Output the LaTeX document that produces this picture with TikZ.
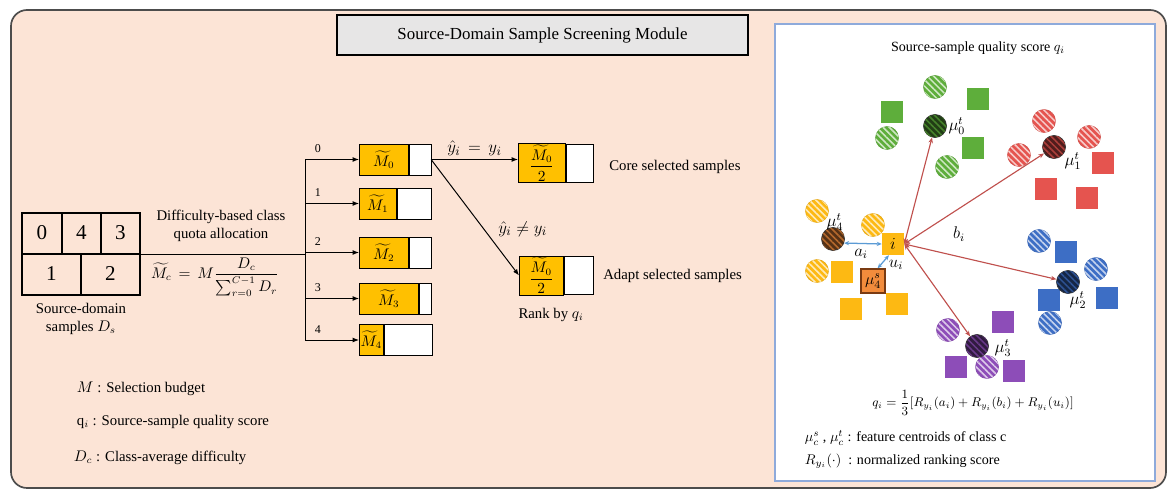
\documentclass[tikz,border=0pt]{standalone}
\usepackage{amsmath}
\usepackage{fontspec}
\setmainfont{Liberation Serif}
\usepackage{xcolor}
\usetikzlibrary{arrows.meta,positioning,patterns.meta}
\definecolor{peach}{HTML}{FCE4D6}
\definecolor{titlegray}{HTML}{E7E6E6}
\definecolor{panelblue}{HTML}{8EAADB}
\definecolor{qyellow}{HTML}{FFC000}
\definecolor{cgreen}{HTML}{5EAE3B}
\definecolor{cred}{HTML}{E5544F}
\definecolor{cyellow}{HTML}{FDB913}
\definecolor{cblue}{HTML}{3D6EC5}
\definecolor{cpurple}{HTML}{8D4DB8}
\definecolor{corange}{HTML}{F28C3C}
\definecolor{cbrown}{HTML}{7A3B12}
\definecolor{arrred}{HTML}{C0504D}
\definecolor{arrblue}{HTML}{5B9BD5}
\newcommand{\pxw}[1]{(#1)*0.025cm}

\begin{document}
\begin{tikzpicture}[x=0.025cm,y=-0.025cm,
  font=\fontsize{10.5}{12.5}\selectfont,
  quota/.style={draw,fill=qyellow,anchor=west,inner sep=1pt,minimum height=\pxw{31}},
  rest/.style={draw,fill=white,anchor=west,inner sep=0pt,minimum height=\pxw{31}},
  arr/.style={-{Latex[length=4.5pt,width=3.5pt]},line width=0.7pt},
  hdot/.style={circle,inner sep=0pt,minimum size=\pxw{23},fill=#1,draw=#1!90!black,
    line width=0.4pt,postaction={pattern={Lines[angle=-45,distance=3.2pt,line width=1.1pt]},
    pattern color=white!70!#1}},
  cdot/.style={circle,inner sep=0pt,minimum size=\pxw{23},fill=#1!35!black,draw=black!80,
    line width=0.5pt,postaction={pattern={Lines[angle=-45,distance=3.2pt,line width=1.1pt]},
    pattern color=#1!75!black}},
  sq/.style={rectangle,inner sep=0pt,minimum size=\pxw{22},fill=#1},
  barr/.style={draw=arrred,line width=0.8pt,{Stealth[length=4pt,width=3.2pt]}-{Stealth[length=4pt,width=3.2pt]}},
  blarr/.style={draw=arrblue,line width=0.9pt,{Stealth[length=3.5pt,width=3pt]}-{Stealth[length=3.5pt,width=3pt]}},
  mlab/.style={font=\fontsize{12}{14}\selectfont,inner sep=1pt},
  ylab/.style={font=\fontsize{12.5}{14}\selectfont,inner sep=1pt}]
\useasboundingbox (0,0) rectangle (1176,498);

% outer frame and title
\draw[draw=black!70,line width=1.2pt,fill=peach,rounded corners=0.4cm] (11,10) rectangle (1166,488);
\node[draw,line width=1.5pt,fill=titlegray,minimum width=\pxw{411},minimum height=\pxw{40},
  font=\fontsize{12}{14}\selectfont] (title) at (542.5,35) {Source-Domain Sample Screening Module};

% source-domain samples
\node[draw,line width=1pt,minimum width=\pxw{118},minimum height=\pxw{82}] (grid) at (81,254) {};
\draw[line width=1pt] (grid.west) -- (grid.east);
\draw[line width=1pt] (62,213) -- (62,254) (101,213) -- (101,254) (81,254) -- (81,295);
\foreach \t/\cx/\cy [count=\n] in {0/42/233,4/81.5/233,3/120.5/233,1/51.5/274,2/110.5/274}
  \node[font=\fontsize{15}{17}\selectfont] (d\n) at (\cx,\cy) {\t};
\node[below=2pt of grid,align=center] (srclab) {Source-domain\\samples $D_s$};

% quota allocation
\node[align=center] (alloc) at (221,226) {Difficulty-based class\\quota allocation};
\node (mc) at (215,277) {$\widetilde{M_c}\,=\,M\dfrac{D_c}{\sum_{r=0}^{C-1}D_r}$};
\coordinate (trunk) at (305,254);
\draw[line width=0.7pt] (grid.east) -- (trunk);
\foreach \k/\yc/\yw in {0/159.5/49,1/203.5/37,2/252.5/49,3/298.5/59,4/340/23} {
  \node[quota,minimum width=\pxw{\yw}] (m\k) at (359,\yc) {$\widetilde{M}_\k$};
  \node[rest,minimum width=\pxw{71-\yw}] (r\k) at (m\k.east) {};
  \draw[arr] (trunk) |- node[pos=0.62,above=1pt,font=\fontsize{8.5}{10}\selectfont] {\k} (m\k.west);
}

% selected samples
\node[quota,minimum width=\pxw{47},minimum height=\pxw{38}] (core) at (518,163) {$\dfrac{\widetilde{M}_0}{2}$};
\node[rest,minimum width=\pxw{27},minimum height=\pxw{38}] (corer) at (core.east) {};
\node[quota,minimum width=\pxw{44},minimum height=\pxw{38}] (adapt) at (519,275.5) {$\dfrac{\widetilde{M}_0}{2}$};
\node[rest,minimum width=\pxw{29},minimum height=\pxw{38}] (adaptr) at (adapt.east) {};
\draw[arr] (r0.east) -- node[above=1pt,ylab] {$\hat{y}_i\,=\,y_i$} (r0.east -| core.west);
\draw[arr] (r0.east) -- node[pos=0.6,right=9pt,ylab] {$\hat{y}_i\neq y_i$} (adapt.west);
\node[right=0.28cm of corer,yshift=-4*0.025cm] (corelab) {Core selected samples};
\node[right=0.13cm of adaptr] (adaptlab) {Adapt selected samples};
\node (rank) at (551,315) {Rank by $q_i$};

% legend
\node[anchor=west] (leg1) at (72,389) {$M$ : Selection budget};
\node[anchor=west] (leg2) at (72,422) {q$_i$ : Source-sample quality score};
\node[anchor=west] (leg3) at (69,458) {$D_c$ : Class-average difficulty};

% quality score panel
\draw[panelblue,fill=white,line width=0.8pt] (775,24) rectangle (1155,481);
\node[font=\fontsize{10}{12}\selectfont] (ptitle) at (978,48) {Source-sample quality score $q_i$};

\foreach \p [count=\n] in {(935,87),(887,138),(947,167)} \node[hdot=cgreen] (gh\n) at \p {};
\foreach \p [count=\n] in {(978,99),(892,112),(973,148)} \node[sq=cgreen] (gs\n) at \p {};
\foreach \p [count=\n] in {(1044,121),(1089,137),(1019,155)} \node[hdot=cred] (rh\n) at \p {};
\foreach \p [count=\n] in {(1103,163),(1046,189),(1087,198)} \node[sq=cred] (rs\n) at \p {};
\foreach \p [count=\n] in {(817,211),(873,225),(817,271)} \node[hdot=cyellow] (yh\n) at \p {};
\foreach \p [count=\n] in {(842,272),(851,309),(897,304)} \node[sq=cyellow] (ys\n) at \p {};
\foreach \p [count=\n] in {(1039,241),(1096,269),(1050,323)} \node[hdot=cblue] (bh\n) at \p {};
\foreach \p [count=\n] in {(1066,252),(1049,300),(1107,298)} \node[sq=cblue] (bs\n) at \p {};
\foreach \p [count=\n] in {(948,330),(987,367)} \node[hdot=cpurple] (ph\n) at \p {};
\foreach \p [count=\n] in {(1003,322),(956,367),(1014,371)} \node[sq=cpurple] (ps\n) at \p {};

\node[cdot=cgreen] (c0) at (935,126) {};
\node[cdot=cred] (c1) at (1054,147) {};
\node[cdot=cblue] (c2) at (1068,282) {};
\node[cdot=cpurple] (c3) at (977,346) {};
\node[cdot=corange] (c4) at (833,239) {};
\node[sq=cyellow,font=\fontsize{12}{14}\selectfont] (i) at (893,244) {$i$};
\node[draw=cbrown,fill=corange,line width=1pt,minimum size=\pxw{24},inner sep=0pt,
  font=\fontsize{11}{13}\selectfont] (ms) at (873,281) {$\mu_4^s$};

\node[mlab,right=0pt of c0] (l0) {$\mu_0^t$};
\node[mlab] (l1) at (1073,161) {$\mu_1^t$};
\node[mlab] (l2) at (1078,300) {$\mu_2^t$};
\node[mlab] (l3) at (1003,348) {$\mu_3^t$};
\node[mlab] (l4) at (835,222) {$\mu_4^t$};

\foreach \c in {c0,c1,c2,c3} \draw[barr] (i.east) -- (\c);
\draw[blarr] (c4.-20) -- (i.west);
\draw[blarr] (i.250) -- (ms.70);
\node[mlab] (al) at (861,254) {$a_i$};
\node[mlab] (ul) at (896,265) {$u_i$};
\node[mlab] (bl) at (959,234) {$b_i$};

\node[font=\fontsize{9}{11}\selectfont] (qf) at (973,403)
  {$q_i=\dfrac{1}{3}[R_{y_i}(a_i)+R_{y_i}(b_i)+R_{y_i}(u_i)]$};
\node[anchor=west,font=\fontsize{10}{12}\selectfont] (pleg1) at (800,438) {$\mu_c^s$ , $\mu_c^t$ : feature centroids of class c};
\node[anchor=west,font=\fontsize{10}{12}\selectfont] (pleg2) at (800,461) {$R_{y_i}(\cdot)$\ \ : normalized ranking score};
\end{tikzpicture}
\end{document}
